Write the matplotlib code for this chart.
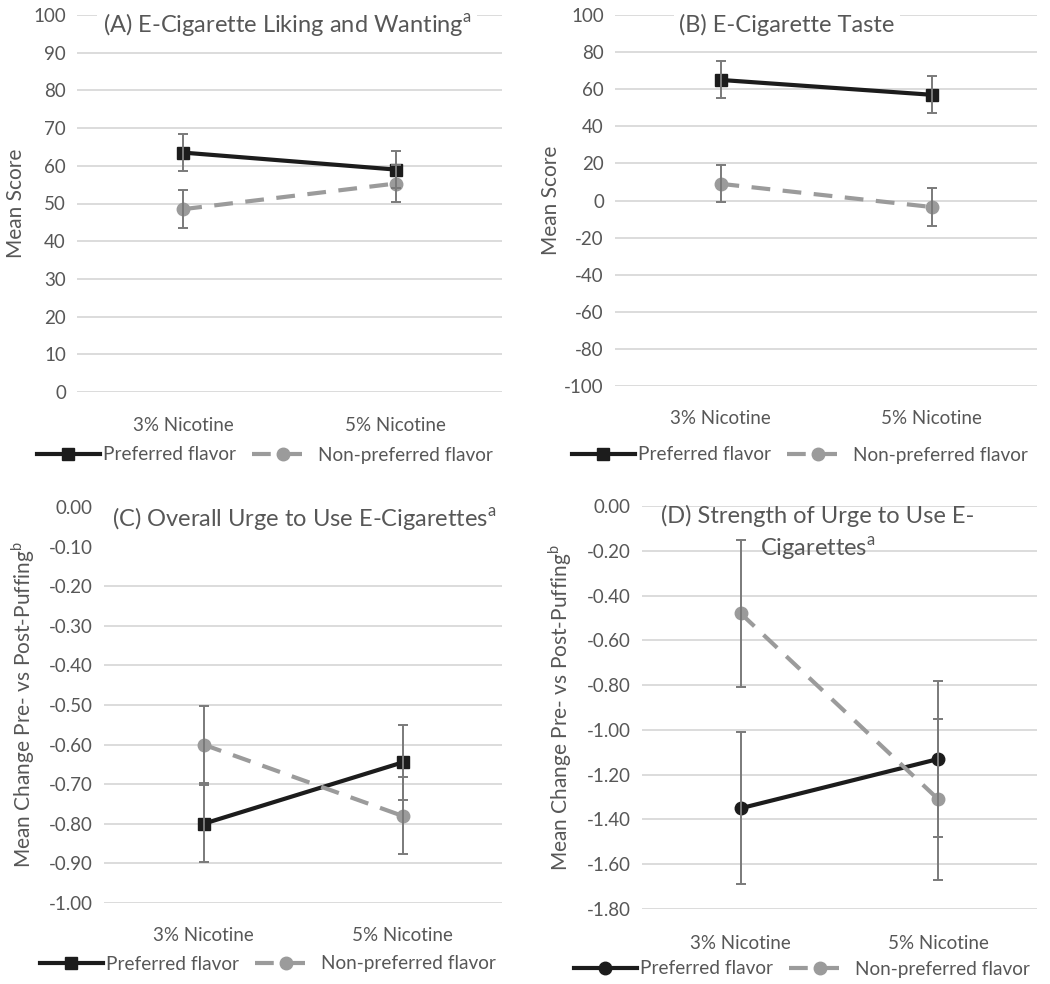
import numpy as np
import matplotlib
matplotlib.use("Agg")
import matplotlib.pyplot as plt

plt.rcParams['font.family'] = ['Lato', 'DejaVu Sans']
plt.rcParams['mathtext.fontset'] = 'custom'
plt.rcParams['mathtext.rm'] = 'Lato'
plt.rcParams['axes.unicode_minus'] = False

categories = ['3% Nicotine', '5% Nicotine']
series_names = ['Preferred flavor', 'Non-preferred flavor']

a_pref = [63.5, 59.0]
a_pref_err = [5.0, 5.0]
a_non = [48.5, 55.3]
a_non_err = [5.0, 5.0]

b_pref = [65.0, 57.0]
b_pref_err = [10.0, 10.0]
b_non = [9.0, -3.5]
b_non_err = [10.0, 10.0]

c_pref = [-0.80, -0.645]
c_pref_err = [0.097, 0.095]
c_non = [-0.60, -0.78]
c_non_err = [0.097, 0.097]

d_pref = [-1.35, -1.13]
d_pref_err = [0.34, 0.35]
d_non = [-0.48, -1.31]
d_non_err = [0.33, 0.36]

TXT = '#575757'
GRID = '#d9d9d9'
BLACK = '#1c1c1c'
GRAY = '#9b9b9b'
EBAR = '#7a7a7a'

fig = plt.figure(figsize=(10.5, 9.84), dpi=100)
W, H = 1050.0, 984.0


def panel(px, title, tpos, pref, perr, non, nerr, ylim, step, fmt,
          ylabel, ylx, pref_marker, leg_y, leg_x, pad, mask):
    l, t, r, b = px
    ax = fig.add_axes([l / W, 1 - b / H, (r - l) / W, (b - t) / H])
    x = np.arange(len(categories))
    h1, = ax.plot(x, pref, color=BLACK, lw=3, marker=pref_marker, ms=9,
                  zorder=3, label=series_names[0])
    h2, = ax.plot(x, non, color=GRAY, lw=3, ls=(0, (4.5, 3)), marker='o',
                  ms=9, zorder=3, label=series_names[1])
    ax.errorbar(x, pref, yerr=perr, fmt='none', ecolor=EBAR, elinewidth=1.4,
                capsize=3.5, capthick=1.4, zorder=4)
    ax.errorbar(x, non, yerr=nerr, fmt='none', ecolor=EBAR, elinewidth=1.4,
                capsize=3.5, capthick=1.4, zorder=4)
    ax.set_xlim(-0.5, 1.5)
    ax.set_ylim(*ylim)
    ticks = np.arange(ylim[0], ylim[1] + step / 2, step)
    ax.set_yticks(ticks)
    ax.set_yticklabels([fmt.format(round(v, 4) + 0.0) for v in ticks])
    ax.set_xticks(x)
    ax.set_xticklabels(categories)
    ax.tick_params(length=0, labelsize=13.5, colors=TXT)
    ax.tick_params(axis='x', pad=pad)
    ax.tick_params(axis='y', pad=8)
    ax.grid(axis='y', color=GRID, lw=1.3)
    ax.set_axisbelow(True)
    for s in ax.spines.values():
        s.set_visible(False)
    fig.text(ylx / W, 1 - (t + b) / 2 / H, ylabel, rotation=90, ha='center',
             va='center', fontsize=15, color=TXT)
    box = dict(facecolor='white', edgecolor='none', pad=mask) if mask else None
    fig.text(tpos[0] / W, 1 - tpos[1] / H, title, ha='center', va='center',
             fontsize=17, color=TXT, linespacing=1.4, bbox=box, zorder=10)
    fig.legend([h1, h2], series_names, loc='center', ncol=2,
               bbox_to_anchor=(leg_x / W, 1 - leg_y / H), frameon=False,
               fontsize=13.7, handlelength=3.3, handletextpad=0.2,
               columnspacing=0.8, labelcolor=TXT)
    return ax


panel((77, 15, 502, 392), '(A) E-Cigarette Liking and Wanting$^{\\mathrm{a}}$',
      (287, 25), a_pref, a_pref_err, a_non, a_non_err, (0, 100), 10, '{:.0f}',
      'Mean Score', 16, 's', 455, 265, 18, 4)

panel((615, 15, 1037, 386), '(B) E-Cigarette Taste',
      (787, 25), b_pref, b_pref_err, b_non, b_non_err, (-100, 100), 20, '{:.0f}',
      'Mean Score', 551, 's', 455, 800, 17, 4)

panel((104, 507, 502, 903), '(C) Overall Urge to Use E-Cigarettes$^{\\mathrm{a}}$',
      (304, 519), c_pref, c_pref_err, c_non, c_non_err, (-1.0, 0.0), 0.1, '{:.2f}',
      'Mean Change Pre- vs Post-Puffing$^{\\mathrm{b}}$', 23, 's', 964, 268, 17, 12)

panel((642, 506, 1037, 909),
      '(D) Strength of Urge to Use E-\nCigarettes$^{\\mathrm{a}}$',
      (818, 534), d_pref, d_pref_err, d_non, d_non_err, (-1.8, 0.0), 0.2, '{:.2f}',
      'Mean Change Pre- vs Post-Puffing$^{\\mathrm{b}}$', 560, 'o', 969, 802, 19, 0)

fig.savefig('out.png', dpi=100, facecolor='white')
